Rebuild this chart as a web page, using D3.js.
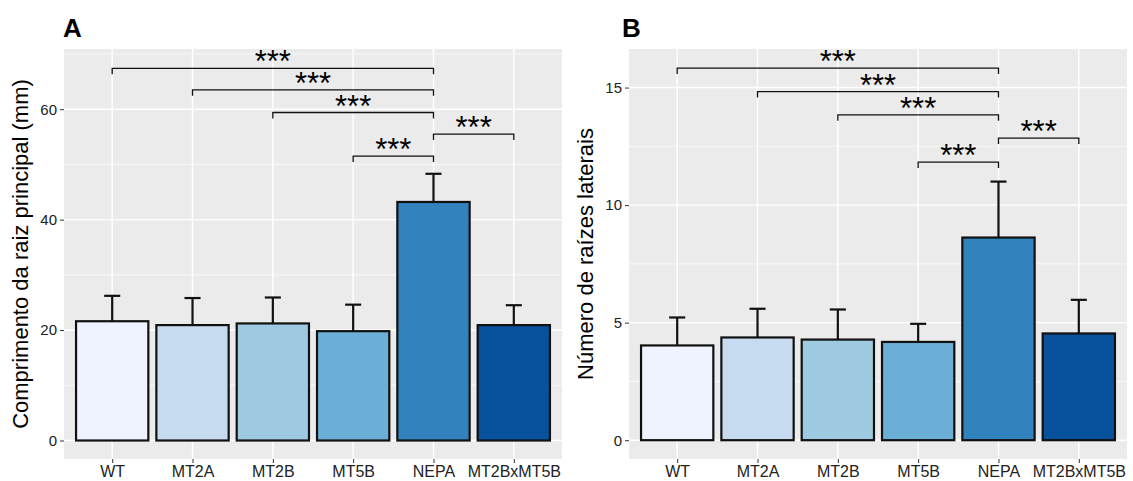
<!DOCTYPE html>
<html>
<head>
<meta charset="utf-8">
<script src="https://cdn.jsdelivr.net/npm/d3@7"></script>
<style>
  body { margin: 0; background: #fff; }
  text { font-family: Arial, "Liberation Sans", sans-serif; }
</style>
</head>
<body>
<div id="chart"></div>
<script>
// genotypes on the x axis
var groups = ["WT", "MT2A", "MT2B", "MT5B", "NEPA", "MT2BxMT5B"];
var fills = ["#EFF3FF", "#C6DBEF", "#9ECAE1", "#6BAED6", "#3182BD", "#08519C"];

// A: main root length (mm), mean and sd
var rootLength = [21.6, 20.9, 21.2, 19.8, 43.2, 20.9];
var rootLengthSd = [4.6, 4.9, 4.7, 4.8, 5.1, 3.6];

// B: number of lateral roots, mean and sd
var lateralRoots = [4.03, 4.37, 4.28, 4.18, 8.62, 4.54];
var lateralRootsSd = [1.19, 1.22, 1.28, 0.77, 2.38, 1.43];

// significance brackets, same pairs in both panels
var comparisons = [["WT", "NEPA"], ["MT2A", "NEPA"], ["MT2B", "NEPA"], ["MT5B", "NEPA"], ["NEPA", "MT2BxMT5B"]];
var signifLabels = ["***", "***", "***", "***", "***"];
var bracketA = [67.4, 63.5, 59.4, 51.5, 55.5];
var bracketB = [15.83, 14.83, 13.84, 11.83, 12.85];

// y ticks
var ticksA = [0, 20, 40, 60], minorA = [10, 30, 50, 70];
var ticksB = [0, 5, 10, 15], minorB = [2.5, 7.5, 12.5];

var W = 1133, H = 481;
var svg = d3.select("#chart").append("svg")
    .attr("width", W).attr("height", H);

function drawPanel(opts) {
    var left = opts.left, right = opts.right, top = 49, bottom = 459;

    var x = d3.scalePoint().domain(groups).range([left, right]).padding(0.6);
    var y = d3.scaleLinear().domain(opts.domain).range([bottom, top]);
    var step = x.step();

    var g = svg.append("g");

    g.append("rect")
        .attr("x", left).attr("y", top)
        .attr("width", right - left).attr("height", bottom - top)
        .attr("fill", "#EBEBEB");

    // grid
    g.selectAll(".minor").data(opts.minor).enter().append("line")
        .attr("x1", left).attr("x2", right)
        .attr("y1", function(d) { return y(d); }).attr("y2", function(d) { return y(d); })
        .attr("stroke", "#fff").attr("stroke-width", 0.7);
    g.selectAll(".major").data(opts.ticks).enter().append("line")
        .attr("x1", left).attr("x2", right)
        .attr("y1", function(d) { return y(d); }).attr("y2", function(d) { return y(d); })
        .attr("stroke", "#fff").attr("stroke-width", 1.4);
    g.selectAll(".vgrid").data(groups).enter().append("line")
        .attr("x1", function(d) { return x(d); }).attr("x2", function(d) { return x(d); })
        .attr("y1", top).attr("y2", bottom)
        .attr("stroke", "#fff").attr("stroke-width", 1.4);

    // bars
    var bw = step * 0.9;
    g.selectAll(".bar").data(groups).enter().append("rect")
        .attr("x", function(d) { return x(d) - bw / 2; })
        .attr("y", function(d, i) { return y(opts.values[i]); })
        .attr("width", bw)
        .attr("height", function(d, i) { return y(0) - y(opts.values[i]); })
        .attr("fill", function(d, i) { return fills[i]; })
        .attr("stroke", "#111").attr("stroke-width", 2.2);

    // upper error bars
    var cap = step * 0.2;
    groups.forEach(function(d, i) {
        var hi = opts.values[i] + opts.sd[i];
        g.append("line")
            .attr("x1", x(d)).attr("x2", x(d))
            .attr("y1", y(opts.values[i])).attr("y2", y(hi))
            .attr("stroke", "#111").attr("stroke-width", 2.2);
        g.append("line")
            .attr("x1", x(d) - cap / 2).attr("x2", x(d) + cap / 2)
            .attr("y1", y(hi)).attr("y2", y(hi))
            .attr("stroke", "#111").attr("stroke-width", 2.2);
    });

    // brackets
    comparisons.forEach(function(pair, i) {
        var x1 = x(pair[0]), x2 = x(pair[1]), yy = y(opts.brackets[i]);
        g.append("path")
            .attr("d", "M" + x1 + "," + (yy + 6) + "V" + yy + "H" + x2 + "V" + (yy + 6))
            .attr("fill", "none").attr("stroke", "#111").attr("stroke-width", 1.3);
        g.append("text")
            .attr("x", (x1 + x2) / 2).attr("y", yy + 4)
            .attr("text-anchor", "middle")
            .style("font-size", "31px")
            .attr("fill", "#000")
            .text(signifLabels[i]);
    });

    // axes
    var yAxis = d3.axisLeft(y).tickValues(opts.ticks).tickSize(4).tickPadding(3);
    var ya = g.append("g").attr("transform", "translate(" + left + ",0)").call(yAxis);
    ya.select(".domain").remove();
    ya.selectAll("line").attr("stroke", "#333").attr("stroke-width", 1);
    ya.selectAll("text").style("font-size", "15px").attr("fill", "#222")
        .style("font-family", "Arial, 'Liberation Sans', sans-serif");

    var xAxis = d3.axisBottom(x).tickSize(4).tickPadding(3);
    var xa = g.append("g").attr("transform", "translate(0," + bottom + ")").call(xAxis);
    xa.select(".domain").remove();
    xa.selectAll("line").attr("stroke", "#333").attr("stroke-width", 1);
    xa.selectAll("text").style("font-size", "16px").attr("fill", "#222")
        .style("font-family", "Arial, 'Liberation Sans', sans-serif");

    // axis title
    g.append("text")
        .attr("transform", "translate(" + opts.titleX + "," + ((top + bottom) / 2) + ") rotate(-90)")
        .attr("text-anchor", "middle")
        .style("font-size", "22px")
        .attr("fill", "#000")
        .text(opts.title);

    // panel tag
    g.append("text")
        .attr("x", opts.tagX).attr("y", 37)
        .style("font-size", "26px").style("font-weight", "bold")
        .attr("fill", "#000")
        .text(opts.tag);
}

drawPanel({
    left: 64, right: 562, domain: [-3.35, 70.9],
    ticks: ticksA, minor: minorA,
    values: rootLength, sd: rootLengthSd, brackets: bracketA,
    title: "Comprimento da raiz principal (mm)", titleX: 28, tag: "A", tagX: 63
});

drawPanel({
    left: 629, right: 1127, domain: [-0.8, 16.64],
    ticks: ticksB, minor: minorB,
    values: lateralRoots, sd: lateralRootsSd, brackets: bracketB,
    title: "Número de raízes laterais", titleX: 593, tag: "B", tagX: 622
});
</script>
</body>
</html>
